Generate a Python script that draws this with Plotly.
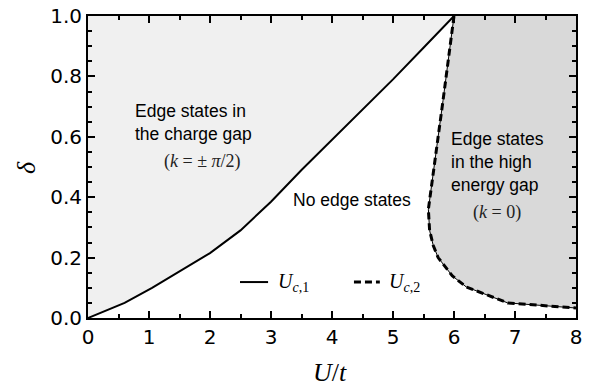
import plotly.graph_objects as go

# ---- data ----
uc1_U = [0.0, 0.6, 1.05, 1.5, 2.0, 2.5, 3.0, 3.5, 4.0, 4.5, 5.0, 5.5, 6.0]
uc1_d = [0.0, 0.05, 0.10, 0.155, 0.215, 0.29, 0.385, 0.49, 0.59, 0.69, 0.79, 0.895, 1.0]

uc2_U = [6.0, 5.92, 5.82, 5.72, 5.63, 5.58, 5.60, 5.66, 5.74, 5.97, 6.2, 6.54, 6.88, 8.0]
uc2_d = [1.0, 0.87, 0.72, 0.57, 0.44, 0.36, 0.29, 0.24, 0.20, 0.14, 0.103, 0.076, 0.05, 0.033]

x_range = [0, 8]
y_range = [0, 1]
x_ticks = [0, 1, 2, 3, 4, 5, 6, 7, 8]
y_ticks = [0.0, 0.2, 0.4, 0.6, 0.8, 1.0]
y_ticktext = ["0.0", "0.2", "0.4", "0.6", "0.8", "1.0"]
x_minor, y_minor = 0.5, 0.05

series_names = ["<i>U</i><sub><i>c</i>,1</sub>", "<i>U</i><sub><i>c</i>,2</sub>"]

LIGHT = "#f0f0f0"
DARK = "#d9d9d9"
DASH = "7px,4px"

fig = go.Figure()

# light region (above Uc1)
fig.add_trace(go.Scatter(
    x=uc1_U + [x_range[0]], y=uc1_d + [y_range[1]],
    fill="toself", fillcolor=LIGHT, mode="none", showlegend=False))

# dark region (right of Uc2)
fig.add_trace(go.Scatter(
    x=uc2_U + [x_range[1]], y=uc2_d + [y_range[1]],
    fill="toself", fillcolor=DARK, mode="none", showlegend=False))

# Uc1 solid line
fig.add_trace(go.Scatter(
    x=uc1_U, y=uc1_d, mode="lines", line=dict(color="black", width=2),
    name=series_names[0], showlegend=False))

# Uc2 thin solid + thick dashes
fig.add_trace(go.Scatter(
    x=uc2_U, y=uc2_d, mode="lines", line=dict(color="black", width=1),
    showlegend=False))
fig.add_trace(go.Scatter(
    x=uc2_U, y=uc2_d, mode="lines", line=dict(color="black", width=3, dash=DASH),
    name=series_names[1], showlegend=False))

SANS = "Liberation Sans"
SERIF = "Liberation Serif"
ann_font = dict(family=SANS, size=17.5, color="black")
math_font = dict(family=SERIF, size=18, color="#222")
title_font = dict(family=SERIF, size=26, color="black")
legend_font = dict(family=SERIF, size=20, color="black")

annotations = [
    dict(x=0.74, y=0.646, text="Edge states in<br>the charge gap", xanchor="left",
         align="left", font=ann_font),
    dict(x=1.87, y=0.517, text="(<i>k</i> = ± <i>π</i>/2)", font=math_font),
    dict(x=4.32, y=0.39, text="No edge states", font=ann_font),
    dict(x=5.92, y=0.517, text="Edge states<br>in the high<br>energy gap", xanchor="left",
         align="left", font=ann_font),
    dict(x=6.70, y=0.348, text="(<i>k</i> = 0)", font=math_font),
]
for a in annotations:
    a.update(xref="x", yref="y", showarrow=False)

# axis titles
annotations += [
    dict(x=0.496, y=-0.182, xref="paper", yref="paper", text="<i>U</i>/<i>t</i>",
         showarrow=False, font=title_font, xanchor="center", yanchor="middle"),
    dict(x=-0.125, y=0.497, xref="paper", yref="paper", text="<i>δ</i>", textangle=-90,
         showarrow=False, font=title_font, xanchor="center", yanchor="middle"),
]

# legend key (paper coordinates)
LEG_Y = 0.119
leg_keys = [(0.3115, 0.369, 0.385, None, 2), (0.545, 0.598, 0.612, DASH, 3)]
shapes = []
for (x0, x1, xt, dash, w), name in zip(leg_keys, series_names):
    ln = dict(color="black", width=w)
    if dash:
        ln["dash"] = dash
    shapes.append(dict(type="line", xref="paper", yref="paper", x0=x0, x1=x1,
                       y0=LEG_Y, y1=LEG_Y, line=ln, layer="above"))
    annotations.append(dict(x=xt, y=LEG_Y, xref="paper", yref="paper", text=name,
                            showarrow=False, font=legend_font, xanchor="left",
                            yanchor="middle"))

tickfont = dict(family="DejaVu Sans", size=20, color="black")

fig.update_layout(
    width=590, height=387,
    margin=dict(l=88, r=14, t=16, b=69),
    plot_bgcolor="white",
    showlegend=False,
    xaxis=dict(range=x_range, tickvals=x_ticks, ticks="inside", ticklen=7, tickwidth=2,
               tickcolor="black", showline=True, linecolor="black", linewidth=2,
               mirror="allticks", showgrid=False, zeroline=False, tickfont=tickfont,
               automargin=False,
               minor=dict(dtick=x_minor, ticks="inside", ticklen=4, tickcolor="black")),
    yaxis=dict(range=y_range, tickvals=y_ticks, ticktext=y_ticktext, ticks="inside",
               ticklen=7, tickwidth=2, tickcolor="black", showline=True, linecolor="black",
               linewidth=2, mirror="allticks", showgrid=False, zeroline=False,
               tickfont=tickfont, automargin=False,
               minor=dict(dtick=y_minor, ticks="inside", ticklen=4, tickcolor="black")),
    annotations=annotations,
    shapes=shapes,
)

fig.write_html("out.html")
